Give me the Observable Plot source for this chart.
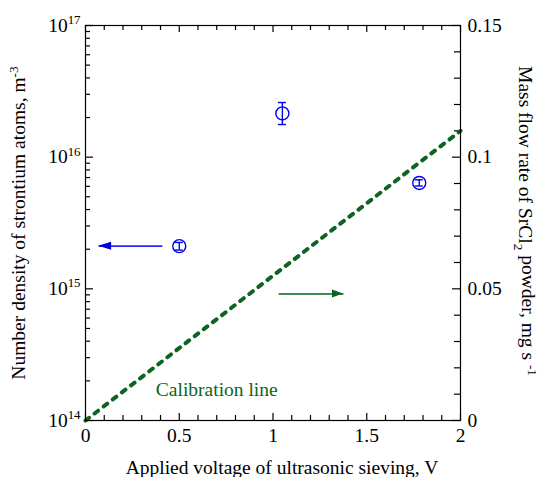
<!DOCTYPE html>
<html><head><meta charset="utf-8">
<script src="https://cdn.jsdelivr.net/npm/d3@7"></script>
<script src="https://cdn.jsdelivr.net/npm/@observablehq/plot@0.6"></script>
<style>body{margin:0;background:#fff} #chart{width:539px;height:477px}</style>
</head><body><div id="chart"></div>
<script>
// ---- data ----
const voltage     = [0.5, 1.05, 1.78];
const density     = [2.11e15, 2.15e16, 6.37e15];
const densityLow  = [1.97e15, 1.77e16, 6.04e15];
const densityHigh = [2.25e15, 2.60e16, 6.73e15];

const calibVoltage = [0, 2];
const calibFlow    = [0, 0.11];

const xTicks      = [0, 0.5, 1, 1.5, 2];
const xTickLabels = ["0", "0.5", "1", "1.5", "2"];
const xMinorTicks = [0.1,0.2,0.3,0.4,0.6,0.7,0.8,0.9,1.1,1.2,1.3,1.4,1.6,1.7,1.8,1.9];

const leftTicks     = [1e14, 1e15, 1e16, 1e17];
const leftExponents = ["14", "15", "16", "17"];
const leftMinorMant = [2,3,4,5,6,7,8,9];

const rightTicks      = [0, 0.05, 0.1, 0.15];
const rightTickLabels = ["0", "0.05", "0.1", "0.15"];
const rightMinorTicks = [0.01,0.02,0.03,0.04,0.06,0.07,0.08,0.09,0.11,0.12,0.13,0.14];

const leftArrow  = {from: 0.41, to: 0.07, density: 2.11e15};
const rightArrow = {from: 1.03, to: 1.376, flow: 0.048};
const calibLabel = {text: "Calibration line", x: 0.70, flow: 0.0116};

// ---- right axis (linear, 0..0.15) expressed on the left log scale ----
const RIGHT_MAX = 0.15;
const toLeft = m => 10 ** (14 + 3 * m / RIGHT_MAX);

const points = voltage.map((v, i) => ({x: v, y: density[i], lo: densityLow[i], hi: densityHigh[i]}));
const calib  = calibVoltage.map((v, i) => ({x: v, y: toLeft(calibFlow[i])}));
const leftMinor = leftTicks.slice(0, 3).flatMap(t => leftMinorMant.map(m => m * t));

const blue = "#0000ee", green = "#0d6420";
const serif = "Liberation Serif";
const X0 = 0, X1 = 2, Y0 = 1e14, Y1 = 1e17;
const tickStyle = {stroke: "black", strokeWidth: 1.2};

const chart = Plot.plot({
  width: 539, height: 477,
  marginLeft: 85, marginRight: 79, marginTop: 25, marginBottom: 57,
  style: {fontFamily: serif, fontSize: "19px", background: "white"},
  x: {domain: [X0, X1]},
  y: {type: "log", domain: [Y0, Y1]},
  marks: [
    // inward ticks drawn as short rules
    Plot.ruleX(xTicks,      {x: d => d, y1: () => Y0, y2: () => Y0, insetTop: -7, ...tickStyle}),
    Plot.ruleX(xMinorTicks, {x: d => d, y1: () => Y0, y2: () => Y0, insetTop: -5, ...tickStyle}),
    Plot.ruleX(xTicks,      {x: d => d, y1: () => Y1, y2: () => Y1, insetBottom: -7, ...tickStyle}),
    Plot.ruleX(xMinorTicks, {x: d => d, y1: () => Y1, y2: () => Y1, insetBottom: -5, ...tickStyle}),
    Plot.ruleY(leftTicks,   {y: d => d, x1: () => X0, x2: () => X0, insetRight: -8, ...tickStyle}),
    Plot.ruleY(leftMinor,   {y: d => d, x1: () => X0, x2: () => X0, insetRight: -5, ...tickStyle}),
    Plot.ruleY(rightTicks.map(toLeft),      {y: d => d, x1: () => X1, x2: () => X1, insetRight: 8, ...tickStyle}),
    Plot.ruleY(rightMinorTicks.map(toLeft), {y: d => d, x1: () => X1, x2: () => X1, insetRight: 6, ...tickStyle}),

    Plot.line(calib, {x: "x", y: "y", stroke: green, strokeWidth: 4, strokeDasharray: "4.5,7", strokeLinecap: "round"}),
    Plot.link([leftArrow], {x1: "from", x2: "to", y1: "density", y2: "density", stroke: "#2a2aee", strokeWidth: 1.6}),
    Plot.link([rightArrow], {x1: "from", x2: "to", y1: d => toLeft(d.flow), y2: d => toLeft(d.flow), stroke: "#3f8a50", strokeWidth: 2}),
    Plot.text([calibLabel], {x: "x", y: d => toLeft(d.flow), text: "text", fill: green, fontSize: 19.5, fontFamily: serif, textAnchor: "middle", lineAnchor: "middle"}),
    Plot.ruleX(points, {x: "x", y1: "lo", y2: "hi", stroke: blue, strokeWidth: 1.4}),
    Plot.ruleY(points, {y: "lo", x1: "x", x2: "x", insetLeft: -4, insetRight: -4, stroke: blue, strokeWidth: 1.4}),
    Plot.ruleY(points, {y: "hi", x1: "x", x2: "x", insetLeft: -4, insetRight: -4, stroke: blue, strokeWidth: 1.4}),
    Plot.dot(points, {x: "x", y: "y", r: 6.5, stroke: blue, fill: "none", strokeWidth: 1.4}),

    // tick labels
    Plot.axisX({ticks: xTicks, tickSize: 0, tickPadding: 8, fontFamily: serif, fontSize: 19.5, label: null,
      tickFormat: d => xTickLabels[xTicks.indexOf(d)]}),
    Plot.axisY({ticks: leftTicks, tickSize: 0, tickPadding: 5, fontFamily: serif, fontSize: 19.5, label: null,
      tickFormat: d => "10^" + leftExponents[leftTicks.findIndex(t => Math.abs(t - d) / t < 1e-6)]}),
    Plot.axisY({anchor: "right", ticks: rightTicks.map(toLeft), tickSize: 0, tickPadding: 7, fontFamily: serif, fontSize: 19.5, label: null,
      tickFormat: d => rightTickLabels[rightTicks.findIndex(t => Math.abs(toLeft(t) - d) / d < 1e-6)]}),
    Plot.frame({stroke: "black", strokeWidth: 1.2})
  ]
});
document.getElementById("chart").appendChild(chart);

// ---- post-processing: superscripts, arrowheads, axis titles ----
const svg = d3.select(chart);
svg.selectAll("text").each(function() {
  const m = /^10\^(\d+)$/.exec(this.textContent);
  if (m) {
    const t = d3.select(this);
    t.text("10");
    t.append("tspan").attr("dy", "-0.6em").attr("font-size", "0.66em").text(m[1]);
  }
});
const sx = chart.scale("x"), sy = chart.scale("y");
function head(xTip, yVal, dir, color, len, wid) {
  const px = sx.apply(xTip), py = sy.apply(yVal);
  const bx = px - dir * len;
  svg.append("path").attr("d", `M${px},${py}L${bx},${py - wid / 2}L${bx},${py + wid / 2}Z`).attr("fill", color);
}
head(leftArrow.to, leftArrow.density, -1, "#0000dd", 13, 8);
head(rightArrow.to, toLeft(rightArrow.flow), 1, green, 11, 8);

const TF = 19.5;
svg.append("text").attr("x", 282).attr("y", 474).attr("text-anchor", "middle").attr("font-size", TF)
  .attr("font-family", serif).attr("fill", "black").text("Applied voltage of ultrasonic sieving, V");
const lt = svg.append("text").attr("transform", "translate(18,223) rotate(-90)").attr("text-anchor", "middle")
  .attr("dy", "0.35em").attr("font-size", TF).attr("font-family", serif).attr("fill", "black");
lt.append("tspan").text("Number density of strontium atoms, m");
lt.append("tspan").attr("dy", "-0.5em").attr("font-size", "0.68em").text("-3");
const rt = svg.append("text").attr("transform", "translate(526,221) rotate(90)").attr("text-anchor", "middle")
  .attr("dy", "0.35em").attr("font-size", TF).attr("font-family", serif).attr("fill", "black");
rt.append("tspan").text("Mass flow rate of SrCl");
rt.append("tspan").attr("dy", "0.4em").attr("font-size", "0.68em").text("2");
rt.append("tspan").attr("dy", "-0.4em").text(" powder, mg s ");
rt.append("tspan").attr("dy", "-0.5em").attr("font-size", "0.68em").text("-1");
</script>
</body></html>
